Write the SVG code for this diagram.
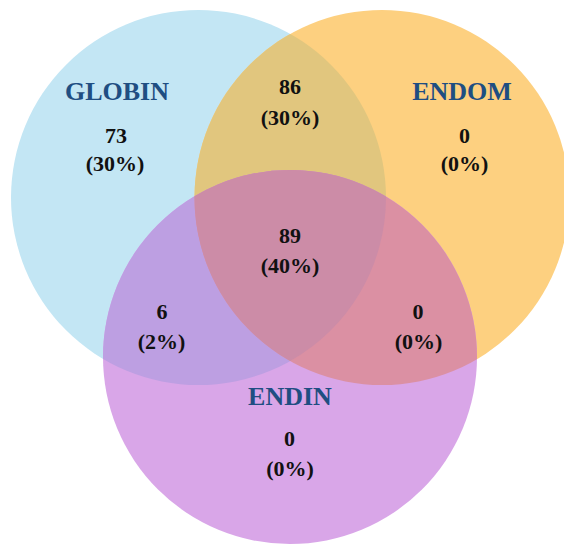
<svg xmlns="http://www.w3.org/2000/svg" width="564" height="544" viewBox="0 0 564 544">
<style>
.lbl{font-family:"Liberation Serif","Times New Roman",serif;font-weight:bold;font-size:26px;fill:#1f4e82;text-anchor:middle}
.num{font-family:"Liberation Serif","Times New Roman",serif;font-weight:bold;font-size:22px;fill:#111;text-anchor:middle}
</style>
<defs>
<clipPath id="cB"><circle cx="198.5" cy="197.5" r="187.5"/></clipPath>
<clipPath id="cO"><circle cx="382" cy="197.5" r="187.5"/></clipPath>
<clipPath id="cBO" clip-path="url(#cB)"><circle cx="382" cy="197.5" r="187.5"/></clipPath>
</defs>
<rect width="564" height="544" fill="#ffffff"/>
<g id="GLOBIN">
<circle cx="198.5" cy="197.5" r="187.5" fill="#c3e6f4"/>
</g>
<g id="ENDOM">
<circle cx="382" cy="197.5" r="187.5" fill="#fdd080"/>
</g>
<g id="ENDIN">
<circle cx="290" cy="357" r="187" fill="#d9a6e8"/>
</g>
<g id="overlaps">
<circle cx="382" cy="197.5" r="187.5" fill="#e1c67e" clip-path="url(#cB)"/>
<circle cx="290" cy="357" r="187" fill="#bd9fe2" clip-path="url(#cB)"/>
<circle cx="290" cy="357" r="187" fill="#db90a3" clip-path="url(#cO)"/>
<circle cx="290" cy="357" r="187" fill="#cc8ca7" clip-path="url(#cBO)"/>
</g>
<g id="labels">
<text class="lbl" x="117" y="100">GLOBIN</text>
<text class="lbl" x="462" y="100">ENDOM</text>
<text class="lbl" x="290" y="405">ENDIN</text>
<text class="num" x="116" y="143">73</text>
<text class="num" x="115" y="171">(30%)</text>
<text class="num" x="290" y="94">86</text>
<text class="num" x="290" y="125">(30%)</text>
<text class="num" x="464.5" y="143">0</text>
<text class="num" x="464.5" y="171">(0%)</text>
<text class="num" x="290" y="243">89</text>
<text class="num" x="290" y="273">(40%)</text>
<text class="num" x="162" y="319">6</text>
<text class="num" x="161.5" y="349">(2%)</text>
<text class="num" x="418" y="319">0</text>
<text class="num" x="418.5" y="349">(0%)</text>
<text class="num" x="289.5" y="446">0</text>
<text class="num" x="290" y="476">(0%)</text>
</g>
</svg>
